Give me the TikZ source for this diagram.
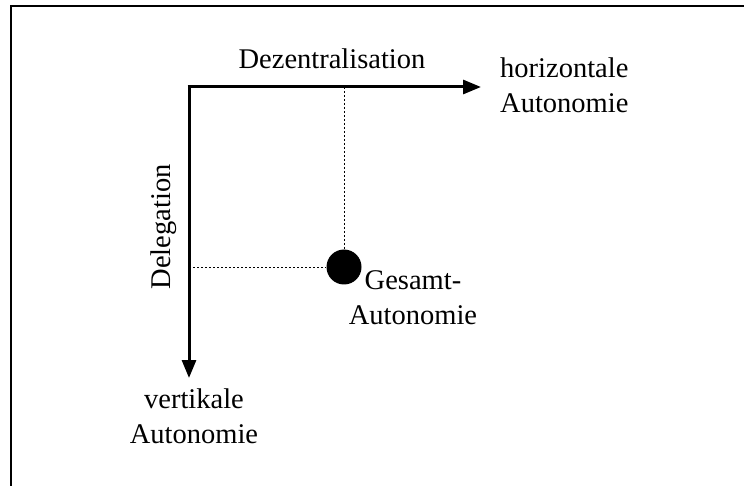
\documentclass[tikz,border=0pt]{standalone}
\usepackage{fontspec}
\setmainfont{Liberation Serif}
\usetikzlibrary{arrows.meta}
\begin{document}
\begin{tikzpicture}[x=1pt,y=-1pt,
  lbl/.style={inner sep=0pt,font=\fontsize{28.5}{35}\selectfont},
  axis/.style={line width=3pt,-{Triangle[length=18pt,width=14pt]}},
  guide/.style={line width=0.9pt,dash pattern=on 2pt off 2pt}]
  \useasboundingbox (0,0) rectangle (744,486);
  % outer frame (only left and top edges)
  \draw[line width=2pt] (11,487) -- (11,6) -- (745,6);

  % axes
  \coordinate (O) at (189,87);
  \coordinate (H) at (481,87);
  \coordinate (V) at (189,378);
  \coordinate (Hx) at (344,87);
  \coordinate (Vy) at (189,267);
  \node[circle,fill=black,minimum size=35pt,inner sep=0pt] (dot) at (344,267) {};

  \draw[guide] (Hx) -- (dot.north);
  \draw[guide] (Vy) -- (dot.west);
  \draw[axis,line cap=butt] ([xshift=-1.5pt]O) -- (H);
  \draw[axis] (O) -- (V);

  % labels (base anchor of a two-line node sits on its last line)
  \node[lbl,anchor=base] (dez) at (332,69) {Dezentralisation};
  \node[lbl,anchor=base west,align=left] (hor) at (500,113) {horizontale\\Autonomie};
  \node[lbl,anchor=base,rotate=90] (del) at (170,227) {Delegation};
  \node[lbl,anchor=base,align=center] (ges) at (413,324) {Gesamt-\\Autonomie};
  \node[lbl,anchor=base,align=center] (ver) at (194,443) {vertikale\\Autonomie};
\end{tikzpicture}
\end{document}
